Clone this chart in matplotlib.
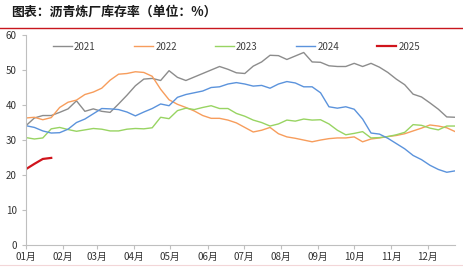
import numpy as np
import matplotlib
matplotlib.use('Agg')
import matplotlib.pyplot as plt
from matplotlib.lines import Line2D

plt.rcParams['font.family'] = ['Noto Sans CJK SC', 'DejaVu Sans']

# weekly data, day-of-year of each week
weeks = np.arange(52) * 7

y2021 = [34.1, 36.3, 37.0, 37.0, 37.9, 38.9, 41.2, 38.2, 38.9, 38.2, 37.9, 40.3, 42.8,
         45.5, 47.4, 47.6, 47.0, 49.8, 47.9, 47.0, 48.0, 49.0, 50.0, 51.0, 50.2, 49.2,
         49.0, 51.1, 52.3, 54.2, 54.1, 53.0, 54.0, 55.0, 52.3, 52.2, 51.2, 51.0, 51.0,
         51.9, 51.0, 51.9, 50.8, 49.3, 47.4, 45.8, 43.1, 42.3, 40.6, 38.8, 36.6, 36.5]
y2022 = [36.3, 36.5, 35.8, 36.4, 39.3, 40.8, 41.4, 43.0, 43.7, 44.8, 47.1, 48.8, 49.0,
         49.5, 49.3, 48.2, 44.5, 41.5, 40.2, 39.3, 38.3, 37.0, 36.2, 36.2, 35.7, 34.9,
         33.6, 32.3, 32.8, 33.6, 31.8, 30.9, 30.5, 30.0, 29.5, 30.0, 30.4, 30.6, 30.6,
         30.9, 29.5, 30.3, 30.6, 31.0, 31.3, 31.8, 32.6, 33.4, 34.3, 34.0, 33.5, 32.4]
y2023 = [30.7, 30.3, 30.6, 33.2, 33.6, 33.0, 32.5, 32.9, 33.3, 33.1, 32.6, 32.6, 33.1,
         33.3, 33.2, 33.5, 36.5, 36.1, 38.4, 39.1, 38.7, 39.3, 39.8, 39.0, 39.0, 37.6,
         36.8, 35.7, 35.0, 34.0, 34.6, 35.7, 35.4, 36.0, 35.7, 35.8, 34.6, 32.8, 31.5,
         31.9, 32.4, 30.6, 30.7, 31.0, 31.5, 32.2, 34.4, 34.2, 33.4, 32.9, 34.0, 34.0]
y2024 = [34.1, 33.6, 32.6, 32.0, 32.1, 33.1, 35.0, 36.0, 37.5, 39.0, 38.9, 38.7, 38.0,
         36.9, 38.0, 39.0, 40.3, 39.8, 42.2, 43.0, 43.5, 44.0, 45.0, 45.2, 46.0, 46.4,
         46.0, 45.4, 45.6, 44.8, 46.0, 46.7, 46.3, 45.2, 45.2, 43.5, 39.5, 39.1, 39.5,
         38.8, 36.0, 32.0, 31.7, 30.5, 29.0, 27.5, 25.6, 24.4, 22.8, 21.6, 20.8, 21.2]
y2025 = [21.7, 23.2, 24.6, 24.9]

month_starts = [0, 31, 59, 90, 120, 151, 181, 212, 243, 273, 304, 334]
month_labels = ['01月', '02月', '03月', '04月', '05月', '06月', '07月', '08月',
                '09月', '10月', '11月', '12月']

fig = plt.figure(figsize=(4.64, 2.67), dpi=100)
ax = fig.add_axes([0.056, 0.082, 0.925, 0.787])

ax.plot(weeks, y2021, color='#8c8c8c', lw=1.0, label='2021')
ax.plot(weeks, y2022, color='#f79d5c', lw=1.0, label='2022')
ax.plot(weeks, y2023, color='#98d462', lw=1.0, label='2023')
ax.plot(weeks, y2024, color='#5b93dc', lw=1.0, label='2024')
ax.plot(weeks[:len(y2025)], y2025, color='#d0141c', lw=1.6, label='2025')

ax.set_xlim(0, weeks[-1])
ax.set_ylim(0, 60)
ax.set_yticks(range(0, 61, 10))
ax.set_xticks(month_starts)
ax.set_xticklabels(month_labels)

for s in ['top', 'right']:
    ax.spines[s].set_visible(False)
for s in ['left', 'bottom']:
    ax.spines[s].set_color('#bfbfbf')
    ax.spines[s].set_linewidth(0.8)
ax.tick_params(axis='both', colors='#bfbfbf', labelcolor='#333333', labelsize=7,
               length=3, width=0.8)
ax.tick_params(axis='x', pad=2)

ax.legend(loc='upper center', bbox_to_anchor=(0.49, 1.01), ncol=5, frameon=False,
          fontsize=7, handlelength=2.0, columnspacing=3.9, handletextpad=0.2,
          labelcolor='#404040')

fig.text(0.025, 0.955, '图表：沥青炼厂库存率（单位：%）', fontsize=9.3,
         fontweight='bold', color='#1a1a1a', va='center', ha='left')
fig.add_artist(Line2D([0, 1], [0.895, 0.895], color='#c8161d', lw=1.0,
                      transform=fig.transFigure))
fig.add_artist(Line2D([0, 1], [0.008, 0.008], color='#f3d6d8', lw=0.8,
                      transform=fig.transFigure))

fig.savefig('out.png', dpi=100)
